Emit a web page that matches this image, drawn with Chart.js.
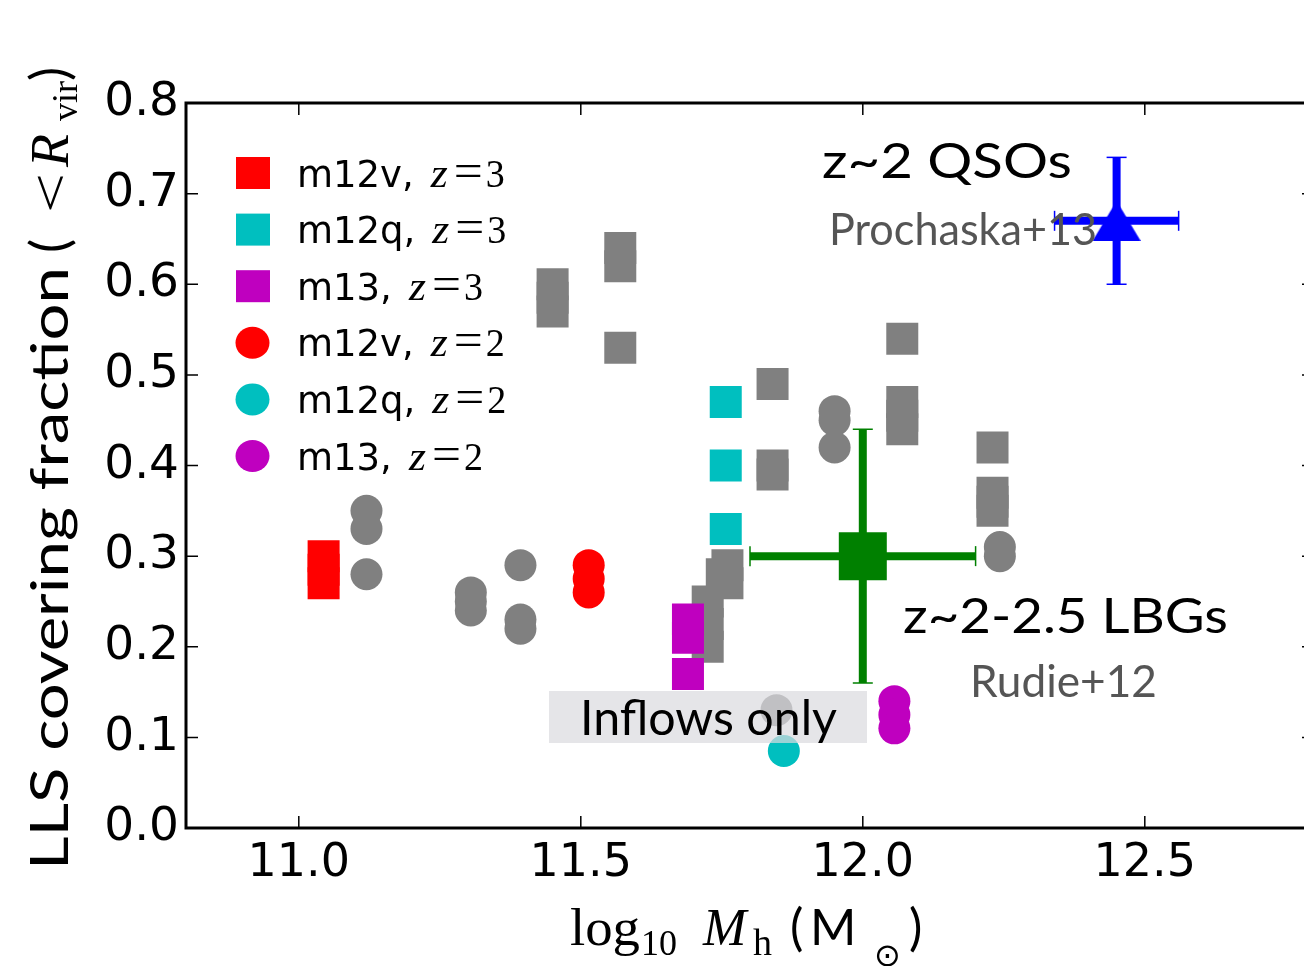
<!DOCTYPE html>
<html>
<head>
<meta charset="utf-8">
<script src="https://cdn.jsdelivr.net/npm/chart.js@4.4.1/dist/chart.umd.min.js"></script>
<style>
html, body { margin:0; padding:0; overflow:hidden; background:#fff; }
#chart { display:block; }
</style>
</head>
<body>
<canvas id="chart" width="1330" height="966"></canvas>
<script>
// ===== data =====
const xTicks = [11.0, 11.5, 12.0, 12.5];
const yTicks = [0.0, 0.1, 0.2, 0.3, 0.4, 0.5, 0.6, 0.7, 0.8];

// grey = other runs / other redshifts
const greySqX = [11.45, 11.45, 11.45, 11.57, 11.57, 11.57, 11.84, 11.84, 11.84, 12.07, 12.07, 12.07, 12.07, 12.23, 12.23, 12.23, 12.23, 11.76, 11.76, 11.75, 11.725, 11.725, 11.725];
const greySqY = [0.60, 0.585, 0.57, 0.64, 0.62, 0.53, 0.49, 0.40, 0.39, 0.54, 0.47, 0.455, 0.44, 0.42, 0.37, 0.36, 0.35, 0.29, 0.27, 0.28, 0.25, 0.225, 0.20];
const greyCircX = [11.12, 11.12, 11.12, 11.305, 11.305, 11.305, 11.393, 11.393, 11.393, 11.95, 11.95, 11.95, 12.243, 12.243, 11.847];
const greyCircY = [0.35, 0.33, 0.28, 0.26, 0.25, 0.24, 0.29, 0.23, 0.22, 0.46, 0.45, 0.42, 0.31, 0.30, 0.13];

const m12vZ3X = [11.044, 11.044, 11.044];
const m12vZ3Y = [0.30, 0.285, 0.27];
const m12qZ3X = [11.757, 11.757, 11.757];
const m12qZ3Y = [0.47, 0.40, 0.33];
const m13Z3X = [11.69, 11.69, 11.69];
const m13Z3Y = [0.23, 0.21, 0.17];
const m12vZ2X = [11.514, 11.514, 11.514];
const m12vZ2Y = [0.29, 0.275, 0.26];
const m12qZ2X = [11.86];
const m12qZ2Y = [0.085];
const m13Z2X = [12.056, 12.056, 12.056];
const m13Z2Y = [0.14, 0.125, 0.11];

// observations with error bars
const lbgX = 12.0, lbgY = 0.30, lbgXerr = 0.2, lbgYerr = 0.14;   // Rudie+12
const qsoX = 12.45, qsoY = 0.67, qsoXerr = 0.11, qsoYerr = 0.07; // Prochaska+13

const legendNames = ['m12v', 'm12q', 'm13', 'm12v', 'm12q', 'm13'];
const legendZ = ['3', '3', '3', '2', '2', '2'];
const legendColors = ['#ff0000', '#00bfbf', '#bf00bf', '#ff0000', '#00bfbf', '#bf00bf'];
const legendShapes = ['sq', 'sq', 'sq', 'ci', 'ci', 'ci'];

// ===== helpers =====
const pts = (xs, ys) => xs.map((x, i) => ({ x, y: ys[i] }));
const GREY = '#808080';
const SQ_R = 32 / Math.SQRT2; // rect side 32px
const CI_R = 16;

function markers(xs, ys, color, style, order) {
  return {
    data: pts(xs, ys), pointStyle: style,
    pointRadius: style === 'rect' ? SQ_R : CI_R,
    backgroundColor: color, borderColor: color, borderWidth: 0,
    showLine: false, order
  };
}
function errBar(a, b, color, capRot) {
  return {
    data: [a, b], showLine: true, borderColor: color, borderWidth: 8,
    pointStyle: 'line', pointRadius: 10, pointBorderWidth: 1.5,
    pointBorderColor: color, pointRotation: capRot, order: 2
  };
}

// matplotlib-like '^' marker, centred on its box
const tri = document.createElement('canvas');
tri.width = 48; tri.height = 40;
(function(){
  const c = tri.getContext('2d');
  c.fillStyle = '#0000ff';
  c.beginPath(); c.moveTo(24, 0); c.lineTo(48, 40); c.lineTo(0, 40); c.closePath(); c.fill();
})();

// text, optionally squeezed/stretched to width w
function fitText(ctx, text, x, y, w, font, color) {
  ctx.font = font;
  ctx.fillStyle = color || '#000';
  const m = ctx.measureText(text).width;
  ctx.save();
  ctx.translate(x, y);
  if (w) ctx.scale(w / m, 1);
  ctx.fillText(text, 0, 0);
  ctx.restore();
}
function drawRuns(ctx, y, runs) {
  for (const r of runs) fitText(ctx, r.text, r.at, y + (r.dy || 0), r.w, r.font, r.color);
}

const SANS = 'Lato, "DejaVu Sans", sans-serif';
const SERIF = '"Liberation Serif", serif';
const DV = '"DejaVu Sans", sans-serif';

// ===== decorations: frame, inward ticks, legend, labels =====
const decor = {
  id: 'decor',
  afterDraw(chart) {
    const ctx = chart.ctx;
    const a = chart.chartArea;
    const xs = chart.scales.x, ys = chart.scales.y;
    ctx.save();

    // "Inflows only" box (semi-transparent over markers)
    ctx.fillStyle = 'rgba(218,219,222,0.71)';
    ctx.fillRect(549, 691, 318, 52);
    fitText(ctx, 'Inflows only', 580, 735, 257, '48px ' + SANS, '#000');

    // frame
    ctx.strokeStyle = '#000';
    ctx.lineWidth = 3;
    ctx.strokeRect(a.left, a.top, a.right - a.left, a.bottom - a.top);

    // inward ticks on all sides
    ctx.lineWidth = 1.5;
    ctx.beginPath();
    for (const v of xTicks) {
      const p = xs.getPixelForValue(v);
      ctx.moveTo(p, a.bottom); ctx.lineTo(p, a.bottom - 12);
      ctx.moveTo(p, a.top); ctx.lineTo(p, a.top + 12);
    }
    for (const v of yTicks) {
      const p = ys.getPixelForValue(v);
      ctx.moveTo(a.left, p); ctx.lineTo(a.left + 12, p);
      ctx.moveTo(a.right, p); ctx.lineTo(a.right - 12, p);
    }
    ctx.stroke();

    // legend
    ctx.textBaseline = 'alphabetic';
    legendNames.forEach((name, i) => {
      const cy = 173 + i * 56.6;
      ctx.fillStyle = legendColors[i];
      if (legendShapes[i] === 'sq') {
        ctx.fillRect(236, cy - 16, 34, 32);
      } else {
        ctx.beginPath(); ctx.ellipse(252.5, cy, 17, 16, 0, 0, Math.PI * 2); ctx.fill();
      }
      const base = cy + 13.5;
      ctx.font = '37px ' + DV;
      ctx.fillStyle = '#000';
      const label = name + ',';
      ctx.fillText(label, 297, base);
      const zx = 297 + ctx.measureText(label).width + 17;
      drawRuns(ctx, base, [
        { text: 'z', font: 'italic 40px ' + SERIF, at: zx, w: 17 },
        { text: '=', font: '46px ' + SERIF, at: zx + 23, w: 29, dy: -1 },
        { text: legendZ[i], font: '40px ' + SERIF, at: zx + 55, w: 19 }
      ]);
    });

    // annotations
    fitText(ctx, 'z~2 QSOs', 822, 178, 250, '48px ' + SANS, '#000');
    fitText(ctx, 'Prochaska+13', 829, 245, 268, '44px ' + SANS, '#555555');
    fitText(ctx, 'z~2-2.5 LBGs', 903, 633, 325, '48px ' + SANS, '#000');
    fitText(ctx, 'Rudie+12', 970, 697, 187, '44px ' + SANS, '#555555');

    // x axis title
    drawRuns(ctx, 945, [
      { text: 'log', font: '52px ' + SERIF, at: 570, w: 70 },
      { text: '10', font: '36px ' + SERIF, at: 641 , dy: 10 },
      { text: 'M', font: 'italic 52px ' + SERIF, at: 703 },
      { text: 'h', font: '38px ' + SERIF, at: 753, dy: 10 },
      { text: '(', font: '50px ' + SANS, at: 790 },
      { text: 'M', font: '50px ' + SANS, at: 810 },
      { text: '\u2299', font: '32px ' + DV, at: 874, dy: 21 },
      { text: ')', font: '50px ' + SANS, at: 909 }
    ]);

    // y axis title (rotated)
    ctx.save();
    ctx.translate(68, 870);
    ctx.rotate(-Math.PI / 2);
    fitText(ctx, 'LLS covering fraction', 0, 0, 603, '53px ' + SANS, '#000');
    drawRuns(ctx, 0, [
      { text: '(', font: '53px ' + SANS, at: 617 },
      { text: '<', font: '52px ' + SERIF, at: 657, w: 40 },
      { text: 'R', font: 'italic 54px ' + SERIF, at: 703 },
      { text: 'vir', font: '36px ' + SERIF, at: 749, dy: 9 },
      { text: ')', font: '53px ' + SANS, at: 789 }
    ]);
    ctx.restore();

    ctx.restore();
  }
};

// ===== chart =====
Chart.defaults.font.family = DV;
Chart.defaults.color = '#000';

const datasets = [
  markers(greySqX, greySqY, GREY, 'rect', 10),
  markers(greyCircX, greyCircY, GREY, 'circle', 9),
  markers(m12vZ3X, m12vZ3Y, '#ff0000', 'rect', 5),
  markers(m12qZ3X, m12qZ3Y, '#00bfbf', 'rect', 5),
  markers(m13Z3X, m13Z3Y, '#bf00bf', 'rect', 5),
  markers(m12vZ2X, m12vZ2Y, '#ff0000', 'circle', 5),
  markers(m12qZ2X, m12qZ2Y, '#00bfbf', 'circle', 5),
  markers(m13Z2X, m13Z2Y, '#bf00bf', 'circle', 5),
  errBar({ x: lbgX, y: lbgY - lbgYerr }, { x: lbgX, y: lbgY + lbgYerr }, '#008000', 0),
  errBar({ x: lbgX - lbgXerr, y: lbgY }, { x: lbgX + lbgXerr, y: lbgY }, '#008000', 90),
  errBar({ x: qsoX, y: qsoY - qsoYerr }, { x: qsoX, y: qsoY + qsoYerr }, '#0000ff', 0),
  errBar({ x: qsoX - qsoXerr, y: qsoY }, { x: qsoX + qsoXerr, y: qsoY }, '#0000ff', 90),
  { data: [{ x: lbgX, y: lbgY }], pointStyle: 'rect', pointRadius: 48 / Math.SQRT2,
    backgroundColor: '#008000', borderWidth: 0, showLine: false, order: 1 },
  { data: [{ x: qsoX, y: qsoY }], pointStyle: tri, pointRadius: 24,
    backgroundColor: '#0000ff', borderWidth: 0, showLine: false, order: 1 }
];

new Chart(document.getElementById('chart'), {
  type: 'scatter',
  data: { datasets },
  options: {
    responsive: false,
    animation: false,
    events: [],
    layout: { autoPadding: false, padding: { top: 103, right: 16, left: 0, bottom: 0 } },
    plugins: { legend: { display: false }, tooltip: { enabled: false } },
    scales: {
      x: {
        type: 'linear', min: 10.8, max: 12.8,
        afterBuildTicks: s => { s.ticks = xTicks.map(v => ({ value: v })); },
        afterFit: s => { s.height = 138; s.paddingLeft = 0; s.paddingRight = 0; },
        grid: { display: false, drawTicks: false },
        border: { display: false },
        ticks: { font: { size: 46, family: DV }, color: '#000', padding: 8,
                 maxRotation: 0, autoSkip: false, callback: v => v.toFixed(1) }
      },
      y: {
        type: 'linear', min: 0, max: 0.8,
        afterBuildTicks: s => { s.ticks = yTicks.map(v => ({ value: v })); },
        afterFit: s => { s.width = 186; s.paddingTop = 0; s.paddingBottom = 0; },
        grid: { display: false, drawTicks: false },
        border: { display: false },
        ticks: { font: { size: 47, family: DV }, color: '#000', padding: 7,
                 autoSkip: false, callback: v => v.toFixed(1) }
      }
    }
  },
  plugins: [decor]
});
</script>
</body>
</html>
